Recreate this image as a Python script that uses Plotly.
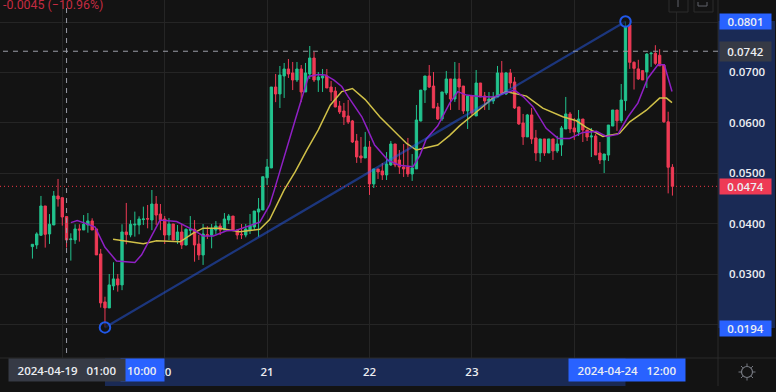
import pandas as pd
import plotly.graph_objects as go

# candle hours counted from 2024-04-19 00:00
hours = list(range(-7, 144))
open_ = [.03544,.03577,.03769,.04350,.03795,.03973,.04549,.04515,.04139,.03683,
.03676,.03894,.03874,.03973,.04053,.03894,.03398,.02447,.02328,.02764,
.02903,.02784,.03835,.03775,.03973,.03973,.04080,.04100,.04072,.04389,
.04190,.04092,.03774,.03992,.03675,.03834,.03576,.03870,.03887,.03596,
.03378,.03780,.03774,.03873,.03953,.03873,.04072,.04150,.03873,.03790,
.03774,.03873,.03933,.04230,.04270,.04910,.05105,.06710,.06572,.06929,
.07068,.06989,.06850,.07068,.06612,.06969,.07286,.06850,.06890,.06930,
.06710,.06630,.06334,.06235,.06136,.06037,.05640,.05343,.05303,.05520,
.04787,.05085,.05045,.04966,.05164,.05580,.05263,.05124,.05124,.04985,
.05085,.06036,.06650,.06929,.06730,.06314,.06077,.06592,.06870,.06473,
.06870,.06730,.06235,.06533,.06136,.06790,.06533,.06434,.06434,.06513,
.06989,.06572,.06989,.06810,.06315,.05997,.05720,.06156,.05700,.05402,
.05680,.05402,.05680,.05442,.05561,.05878,.06176,.05898,.05817,.06075,
.05857,.05718,.05738,.05401,.05262,.05361,.05936,.06254,.06044,.06440,
.07940,.07200,.07070,.07035,.07010,.07370,.07380,.07340,.07147,.06020,.05118]
close = [.03590,.03795,.04350,.03788,.03987,.04549,.04489,.04132,.03676,.03696,
.03894,.03874,.03987,.04053,.03874,.03379,.02427,.02328,.02784,.02903,
.02784,.03835,.03782,.03987,.03987,.04092,.04092,.04090,.04389,.04170,
.04072,.03774,.03992,.03675,.03834,.03576,.03887,.03880,.03576,.03378,
.03794,.03770,.03893,.03953,.03873,.04092,.04150,.03873,.03774,.03780,
.03893,.03953,.04250,.04290,.04930,.05125,.06710,.06572,.06949,.07068,
.06969,.06850,.07068,.06612,.06989,.07286,.06850,.06910,.06930,.06691,
.06612,.06314,.06215,.06116,.06017,.05620,.05323,.05303,.05520,.04787,
.05085,.05025,.04966,.05184,.05580,.05164,.05124,.05085,.04985,.05104,
.06056,.06650,.06929,.06710,.06294,.06076,.06612,.06870,.06473,.06870,
.06710,.06235,.06533,.06196,.06790,.06513,.06434,.06473,.06513,.06989,
.06592,.06989,.06790,.06295,.05978,.05720,.06156,.05680,.05402,.05680,
.05402,.05680,.05442,.05581,.05898,.06176,.05878,.05819,.06075,.05857,
.05718,.05738,.05362,.05262,.05381,.05956,.06254,.06040,.06453,.07910,
.07200,.07080,.06870,.06850,.07365,.07380,.07180,.07130,.06020,.05118,.04740]
high = [.03590,.03828,.04549,.04350,.04190,.04648,.04886,.04515,.04139,.03808,
.03987,.03987,.04170,.04210,.04106,.03894,.03498,.02550,.03000,.03233,
.03000,.03987,.04410,.04070,.04238,.04145,.04337,.04370,.04667,.04548,
.04389,.04150,.04110,.03992,.03973,.03992,.03905,.04150,.04070,.03774,
.03992,.03950,.03992,.04050,.04005,.04210,.04190,.04150,.03873,.03992,
.03992,.04190,.04250,.04508,.04930,.05283,.06710,.06969,.07127,.07187,
.07266,.07207,.07207,.07147,.07187,.07524,.07405,.07008,.07068,.07068,
.06830,.06710,.06433,.06394,.06453,.06057,.05779,.05719,.05819,.05640,
.05085,.05085,.05204,.05420,.05640,.05580,.05460,.05580,.05700,.05380,
.06354,.06650,.06929,.07147,.07008,.06394,.06612,.07029,.06870,.07207,
.07187,.06730,.06533,.06533,.07048,.06790,.06612,.06610,.06610,.07128,
.07227,.07009,.07068,.06910,.06315,.06176,.06176,.06295,.05859,.05680,
.05680,.05680,.05680,.05740,.05938,.06513,.06215,.06096,.06254,.06075,
.05857,.05897,.05778,.05619,.05381,.05956,.06254,.06254,.06770,.08010,
.08010,.07220,.07250,.07035,.07380,.07410,.07540,.07460,.07147,.06220,.05180]
low = [.03306,.03498,.03755,.03524,.03597,.03973,.04337,.03960,.03524,.03266,
.03597,.03643,.03874,.03820,.03874,.03379,.02334,.01940,.02328,.02680,
.02650,.02680,.03590,.03730,.03742,.03788,.03973,.03907,.03870,.03973,
.03870,.03596,.03675,.03675,.03596,.03497,.03570,.03770,.03245,.03279,
.03180,.03695,.03510,.03794,.03774,.03873,.03992,.03873,.03688,.03695,
.03728,.03794,.03873,.03740,.04270,.04768,.05100,.06410,.06294,.06493,
.06890,.06650,.06810,.06410,.06612,.06870,.06810,.06612,.06612,.06691,
.06433,.06310,.06175,.05957,.05977,.05600,.05204,.05204,.05303,.04569,
.04708,.04886,.04866,.04866,.05144,.05120,.04985,.04926,.04926,.04847,
.05085,.06030,.06393,.06690,.06294,.06056,.06037,.06553,.06255,.06414,
.06255,.06176,.05878,.06156,.06136,.06513,.06255,.06255,.06374,.06513,
.06553,.06553,.06690,.06275,.05958,.05561,.05720,.05581,.05244,.05224,
.05343,.05402,.05264,.05402,.05343,.05878,.05799,.05660,.05738,.05619,
.05639,.05322,.05362,.05183,.05004,.05242,.05936,.05840,.06000,.06240,
.07070,.06660,.06850,.06850,.06690,.07110,.07150,.07130,.06000,.04600,.04556]

purple_h = [2,3.5,5.3,7.7,10,12.7,17,18.6,22.9,26.8,31,33,35.4,38.5,40.8,46.3,48.6,49.7,54.6,57.7,60,61.6,63.6,65.5,67,70.2,71.3,73.2,76.3,79,82.2,83.8,85.3,88,90.8,92.7,94.7,97.8,100.9,104,106,108,110.3,113.4,116.2,118.9,122,125.2,127.5,130.2,132.6,134.9,137.2,139.6,141.1,142.9]
purple_p = [.0402,.0406,.0401,.0393,.0353,.0326,.0323,.0338,.0407,.0404,.0386,.03755,.03755,.0386,.0387,.0403,.0437,.0467,.0606,.0692,.0696,.0695,.0685,.0672,.0652,.0612,.0592,.0556,.0526,.0516,.0513,.0535,.0568,.0594,.0639,.0662,.0655,.0652,.0651,.0660,.0665,.0652,.0632,.0589,.0569,.0569,.0581,.0583,.0573,.0577,.0612,.0639,.0688,.0715,.0715,.0662]
yellow_h = [11.9,15.5,19,22.1,27.6,30.7,33,36.9,41.6,46.3,48.6,52,54.6,57.3,60,62.8,65.5,68,71,74.4,77.5,80.7,83,85.3,88,90.8,93.1,96.7,100.9,104,108.8,112.6,117.3,120.5,122.8,126.7,130.6,133,136.9,140,141.6,142.9]
yellow_p = [.0369,.0364,.0360,.0366,.0364,.0381,.0391,.0391,.0384,.0389,.0408,.0467,.0503,.0546,.0586,.0635,.0662,.0668,.0646,.0612,.0586,.0559,.0546,.0551,.0556,.0575,.0594,.0619,.0649,.0662,.0653,.0629,.0612,.0604,.0591,.0573,.0579,.0602,.0625,.0649,.0649,.0640]
trend_h = [10, 132]
trend_p = [.0194, .0801]
last_price = .0474
cross_h, cross_p = 1, .0742
price_ticks = [.02, .03, .04, .05, .06, .07, .08]
price_text = ["", "0.0300", "0.0400", "0.0500", "0.0600", "0.0700", ""]
day_ticks = ["2024-04-19", "2024-04-20", "2024-04-21", "2024-04-22", "2024-04-23", "2024-04-24", "2024-04-25"]
day_text = ["", "20", "21", "22", "23", "", ""]

BASE = pd.Timestamp("2024-04-19")
def t(h):
    return [BASE + pd.Timedelta(hours=float(v)) for v in h]

W, H, PW, PH = 776, 392, 718, 358
def px(x): return x / PW
def py(y): return 1 - y / PH

BG, GRID, GREEN, RED = "#131313", "#252525", "#22c38e", "#ee3a55"
BLUE, STRIP, GRAY, TXT = "#2962ff", "#1a2a55", "#363a45", "#eceef2"
FONT = "Open Sans"

fig = go.Figure()
fig.add_trace(go.Candlestick(x=t(hours), open=open_, high=high, low=low, close=close,
    whiskerwidth=0, hoverinfo="skip",
    increasing=dict(line=dict(color=GREEN, width=1), fillcolor=GREEN),
    decreasing=dict(line=dict(color=RED, width=1), fillcolor=RED)))
fig.add_trace(go.Scatter(x=t(yellow_h), y=yellow_p, mode="lines", hoverinfo="skip",
    line=dict(color="#d0c048", width=1.5)))
fig.add_trace(go.Scatter(x=t(purple_h), y=purple_p, mode="lines", hoverinfo="skip",
    line=dict(color="#8f20c4", width=1.5)))
fig.add_trace(go.Scatter(x=t(trend_h), y=trend_p, mode="lines+markers", hoverinfo="skip",
    line=dict(color="rgba(41,98,255,0.45)", width=2.2),
    marker=dict(size=10.5, color="rgba(19,19,19,0.6)", line=dict(color="#2158e8", width=2))))

shapes = [
    dict(type="rect", xref="paper", yref="paper", x0=px(718), x1=px(775), y0=py(21), y1=py(328),
         fillcolor=STRIP, line_width=0, layer="below"),
    dict(type="rect", xref="x", yref="paper", x0=t(trend_h)[0], x1=t(trend_h)[1], y0=py(358), y1=py(386),
         fillcolor=STRIP, line_width=0, layer="below"),
    dict(type="line", xref="paper", yref="paper", x0=px(718), x1=px(718), y0=py(0), y1=py(386),
         line=dict(color="#2b2b2b", width=1), layer="above"),
    dict(type="line", xref="paper", yref="paper", x0=px(0), x1=px(776), y0=py(358), y1=py(358),
         line=dict(color="#2b2b2b", width=1), layer="above"),
    dict(type="line", xref="paper", yref="y", x0=px(3), x1=1, y0=cross_p, y1=cross_p,
         line=dict(color="#9a9ca6", width=1, dash="5px,5px")),
    dict(type="line", xref="x", yref="paper", x0=t([cross_h])[0], x1=t([cross_h])[0], y0=py(8), y1=py(354),
         line=dict(color="#9a9ca6", width=1, dash="5px,5px")),
    dict(type="line", xref="paper", yref="y", x0=0, x1=1, y0=last_price, y1=last_price,
         line=dict(color="#f23645", width=1, dash="1px,3px")),
    # top-right buttons and icons
    dict(type="rect", xref="paper", yref="paper", x0=px(669), x1=px(688), y0=py(-6), y1=py(12),
         line=dict(color="#2c2c2c", width=1), fillcolor=BG),
    dict(type="rect", xref="paper", yref="paper", x0=px(694), x1=px(713), y0=py(-6), y1=py(12),
         line=dict(color="#2c2c2c", width=1), fillcolor=BG),
    dict(type="line", xref="paper", yref="paper", x0=px(678), x1=px(678), y0=py(0), y1=py(7),
         line=dict(color="#60636b", width=1)),
    dict(type="path", xref="paper", yref="paper",
         path=f"M {px(698)} {py(2)} L {px(698)} {py(6)} L {px(707)} {py(6)} L {px(707)} {py(2)}",
         line=dict(color="#60636b", width=1)),
    # settings gear
    dict(type="circle", xref="paper", yref="paper", x0=px(741.5), x1=px(752.5), y0=py(366.5), y1=py(377.5),
         line=dict(color="#777a82", width=1.2)),
]
for a, b, c, d in [(747, 363.5, 747, 366), (747, 378, 747, 380.5), (738.5, 372, 741, 372), (753, 372, 755.5, 372),
                   (741, 366, 742.8, 367.8), (753, 366, 751.2, 367.8), (741, 378, 742.8, 376.2), (753, 378, 751.2, 376.2)]:
    shapes.append(dict(type="line", xref="paper", yref="paper", x0=px(a), x1=px(c), y0=py(b), y1=py(d),
                       line=dict(color="#777a82", width=1)))

def label(text, xc, yc, w, h, bg, size=11.5, align="center"):
    return dict(text=text, xref="paper", yref="paper", x=px(xc), y=py(yc), xanchor="center", yanchor="middle",
                showarrow=False, width=w, height=h, bgcolor=bg, borderpad=0, align=align, valign="middle",
                font=dict(family=FONT, size=size, color=TXT, weight=600))

annotations = [
    label("0.0801", 745, 21.5, 51, 15, BLUE),
    label("0.0742", 745, 51.5, 51, 19, GRAY),
    label("0.0474", 745, 186.5, 51, 15, RED),
    label("0.0194", 745, 328.5, 51, 15, BLUE),
    label("&nbsp;&nbsp;10:00", 142, 370, 43, 22, BLUE, align="left"),
    label("2024-04-19&nbsp;&nbsp;&nbsp;01:00", 67, 370, 116, 22, GRAY),
    label("2024-04-24&nbsp;&nbsp;&nbsp;12:00", 627, 370, 116, 22, BLUE),
    dict(text="-0.0045 (\u221210.96%)", xref="paper", yref="paper", x=px(1), y=py(4.8), xanchor="left", yanchor="middle",
         showarrow=False, font=dict(family="Roboto", size=12.4, color="#c42b41")),
]
tick_font = dict(family=FONT, size=11.5, color=TXT, weight=600)

fig.update_layout(
    width=W, height=H, margin=dict(l=0, r=W - PW, t=0, b=H - PH),
    paper_bgcolor=BG, plot_bgcolor=BG, showlegend=False, hovermode=False, boxgap=0.22,
    shapes=shapes, annotations=annotations,
    font=dict(family=FONT, size=12, color=TXT),
    xaxis=dict(type="date", rangeslider=dict(visible=False), range=t([-14.6, 153.68]),
               tickmode="array", tickvals=day_ticks, ticktext=day_text, showgrid=True, gridcolor=GRID, gridwidth=1,
               zeroline=False, showline=False, ticks="", ticklabelstandoff=5, tickfont=tick_font),
    yaxis=dict(side="right", range=[.013340, .084365], tickmode="array", tickvals=price_ticks, ticktext=price_text,
               showgrid=True, gridcolor=GRID, gridwidth=1, zeroline=False, showline=False, ticks="",
               ticklabelstandoff=10, tickfont=tick_font),
)
fig.write_html("out.html", config=dict(displayModeBar=False),
               post_script="document.body.style.margin='0';document.body.style.overflow='hidden';")
